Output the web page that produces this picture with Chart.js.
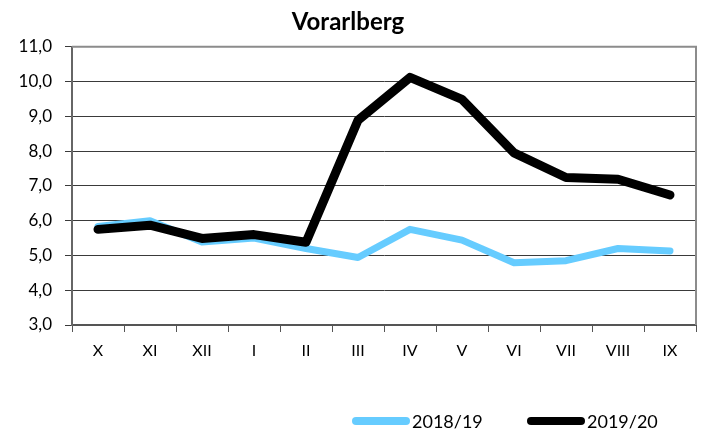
<!DOCTYPE html>
<html><head><meta charset="utf-8">
<script src="https://cdn.jsdelivr.net/npm/chart.js@4/dist/chart.umd.min.js"></script>
<style>html,body{margin:0;padding:0;background:#fff}#wrap{width:702px;height:430px}</style>
</head><body><div id="wrap"><canvas id="c" width="702" height="430"></canvas></div>
<script>
const categories = ["X","XI","XII","I","II","III","IV","V","VI","VII","VIII","IX"];
const series1819 = [5.83,6.0,5.39,5.5,5.2,4.94,5.75,5.44,4.79,4.85,5.2,5.13];
const series1920 = [5.75,5.87,5.49,5.6,5.38,8.89,10.12,9.49,7.95,7.24,7.19,6.74];
const seriesLabels = ["2018/19","2019/20"];
const yTicks = [3,4,5,6,7,8,9,10,11];

const FONT = "Lato, 'Open Sans', sans-serif";

const frame = {
  id:'frame',
  afterDatasetsDraw(chart){
    const {ctx, chartArea:a} = chart;
    ctx.save();
    ctx.strokeStyle = '#8c8c8c';
    ctx.lineWidth = 2;
    ctx.beginPath();
    ctx.moveTo(a.left, a.top); ctx.lineTo(a.right, a.top); ctx.lineTo(a.right, a.bottom);
    ctx.stroke();
    ctx.restore();
  },
  afterDraw(chart){
    const ctx = chart.ctx;
    const starts = [352, 527];
    const y = 421;
    ctx.save();
    ctx.font = "18px " + FONT;
    ctx.textBaseline = 'middle';
    ctx.textAlign = 'left';
    chart.data.datasets.forEach((d,i)=>{
      const x0 = starts[i];
      ctx.strokeStyle = d.borderColor;
      ctx.lineWidth = 8;
      ctx.lineCap = 'round';
      ctx.beginPath();
      ctx.moveTo(x0+4, y); ctx.lineTo(x0+54, y);
      ctx.stroke();
      ctx.fillStyle = '#000';
      ctx.fillText(d.label, x0+60, y+1);
    });
    ctx.restore();
  }
};

new Chart(document.getElementById('c'), {
  type:'line',
  data:{
    labels: categories,
    datasets:[
      {label: seriesLabels[0], data: series1819, borderColor:'#66ccff', backgroundColor:'#66ccff', borderWidth:7, pointRadius:0, tension:0, borderJoinStyle:'round', borderCapStyle:'round', order:1},
      {label: seriesLabels[1], data: series1920, borderColor:'#000000', backgroundColor:'#000000', borderWidth:9, pointRadius:0, tension:0, borderJoinStyle:'round', borderCapStyle:'round', order:0}
    ]
  },
  options:{
    responsive:false,
    animation:false,
    layout:{padding:{top:6,right:6,left:0,bottom:40}},
    plugins:{
      title:{display:true, text:'Vorarlberg', color:'#000', font:{family:FONT, size:24, weight:'bold'}, padding:{top:2,bottom:10}},
      legend:{display:false},
      tooltip:{enabled:false}
    },
    scales:{
      x:{offset:true,
        grid:{offset:true, drawOnChartArea:false, drawTicks:true, tickLength:7, color:'#555', lineWidth:1},
        border:{color:'#555', width:2},
        ticks:{color:'#000', font:{family:FONT, size:16}, padding:9},
        afterFit(s){ s.height = 65; }
      },
      y:{min:3, max:11,
        afterBuildTicks(s){ s.ticks = yTicks.map(v=>({value:v})); },
        grid:{color:'#3a3a3a', lineWidth:1, tickLength:7, drawTicks:true},
        border:{color:'#666', width:2},
        ticks:{color:'#000', font:{family:FONT, size:17}, padding:13,
          callback:(v)=>Number(v).toFixed(1).replace('.',',')},
        afterFit(s){ s.width = 72; }
      }
    }
  },
  plugins:[frame]
});
</script></body></html>
